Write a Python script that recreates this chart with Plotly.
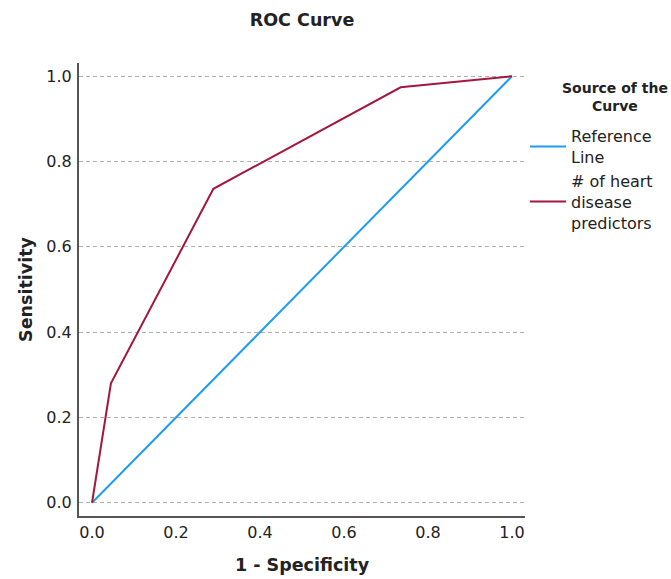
import plotly.graph_objects as go

# Data
roc_x = [0.0, 0.045, 0.289, 0.735, 1.0]
roc_y = [0.0, 0.28, 0.736, 0.974, 1.0]
ref_x = [0.0, 1.0]
ref_y = [0.0, 1.0]
tick_vals = [0.0, 0.2, 0.4, 0.6, 0.8, 1.0]
tick_text = ["0.0", "0.2", "0.4", "0.6", "0.8", "1.0"]

FONT = "DejaVu Sans"
TXT = "#222222"

fig = go.Figure()
fig.add_trace(go.Scatter(x=ref_x, y=ref_y, mode="lines", name="Reference<br>Line",
                         line=dict(color="#1e9cf0", width=2)))
fig.add_trace(go.Scatter(x=roc_x, y=roc_y, mode="lines", name="# of heart<br>disease<br>predictors",
                         line=dict(color="#a3173f", width=2)))

axis_common = dict(
    range=[-0.031, 1.031], tickvals=tick_vals, ticktext=tick_text,
    showline=True, linecolor="#555555", linewidth=2, ticks="",
    tickfont=dict(family=FONT, size=16, color=TXT),
    zeroline=False, automargin=False,
)

fig.update_layout(
    width=671, height=579,
    margin=dict(l=79, r=146, t=63, b=63, autoexpand=False),
    paper_bgcolor="white", plot_bgcolor="white",
    title=dict(text="<b>ROC Curve</b>", xref="paper", x=0.5, xanchor="center",
               yref="container", y=1 - 20 / 579, yanchor="middle",
               font=dict(family=FONT, size=17.5, color=TXT), automargin=False),
    xaxis=dict(**axis_common, showgrid=False, ticklabelstandoff=1,
               title=dict(text="<b>1 - Specificity</b>", standoff=18,
                          font=dict(family=FONT, size=17.5, color=TXT))),
    yaxis=dict(**axis_common, showgrid=True, gridcolor="#b0b0b0", griddash="4px,3px", gridwidth=1,
               ticklabelstandoff=2,
               title=dict(text="<b>Sensitivity</b>", standoff=9,
                          font=dict(family=FONT, size=17.5, color=TXT))),
    legend=dict(x=1.0, xanchor="left", y=0.876, yanchor="top",
                font=dict(family=FONT, size=16, color=TXT),
                itemwidth=36, bgcolor="rgba(0,0,0,0)"),
    annotations=[dict(text="<b>Source of the<br>Curve</b>", xref="paper", yref="paper",
                      x=(615 - 79) / 446, y=1 - (97 - 63) / 453, xanchor="center", yanchor="middle",
                      showarrow=False, align="center",
                      font=dict(family=FONT, size=14, color=TXT))],
)

fig.write_html("out.html", config={"displayModeBar": False},
               post_script="document.body.style.margin='0';document.body.style.overflow='hidden';")
